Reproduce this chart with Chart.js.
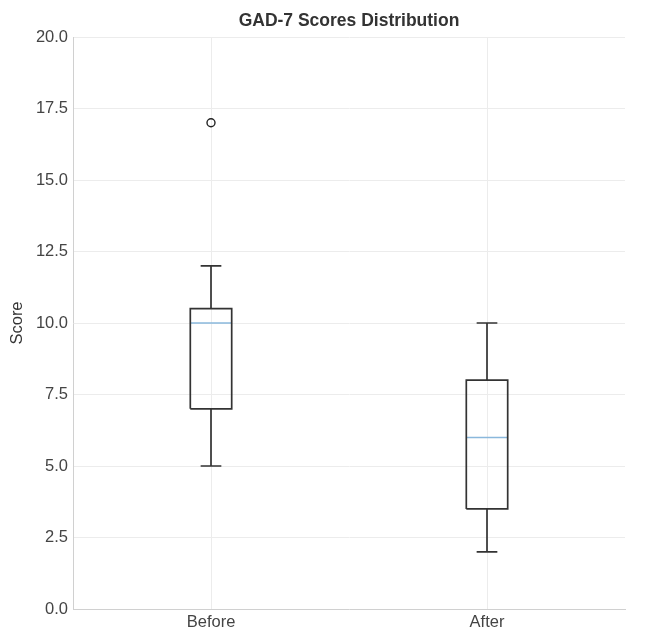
<!DOCTYPE html>
<html>
<head>
<meta charset="utf-8">
<script src="https://cdn.jsdelivr.net/npm/chart.js@4.4.1/dist/chart.umd.min.js"></script>
<style>
  html, body { margin: 0; padding: 0; background: #fff; }
  #wrap { width: 649px; height: 633px; }
</style>
</head>
<body>
<div id="wrap"><canvas id="box"></canvas></div>
<script>
// box plot stats
const categories = ['Before', 'After'];
const whiskerLow = [5, 2];
const q1 = [7, 3.5];
const median = [10, 6];
const q3 = [10.5, 8];
const whiskerHigh = [12, 10];
const outliers = [[17], []];
const yTicks = [0, 2.5, 5, 7.5, 10, 12.5, 15, 17.5, 20];
const chartTitle = 'GAD-7 Scores Distribution';

const boxHalf = 0.075;   // half box width, in category units
const capHalf = 0.0375;
const lineColor = '#333';
const medianColor = '#8ab8dc';
const fontFamily = 'Liberation Sans';

const datasets = [];
categories.forEach((cat, i) => {
  const x = i + 1;
  // box outline
  datasets.push({
    data: [
      {x: x - boxHalf, y: q1[i]}, {x: x + boxHalf, y: q1[i]},
      {x: x + boxHalf, y: q3[i]}, {x: x - boxHalf, y: q3[i]},
      {x: x - boxHalf, y: q1[i]}
    ],
    showLine: true, borderColor: lineColor, borderWidth: 1.7,
    pointRadius: 0, fill: false
  });
  // whiskers + caps
  datasets.push({
    data: [
      {x: x, y: q3[i]}, {x: x, y: whiskerHigh[i]}, {x: null, y: null},
      {x: x - capHalf, y: whiskerHigh[i]}, {x: x + capHalf, y: whiskerHigh[i]}, {x: null, y: null},
      {x: x, y: q1[i]}, {x: x, y: whiskerLow[i]}, {x: null, y: null},
      {x: x - capHalf, y: whiskerLow[i]}, {x: x + capHalf, y: whiskerLow[i]}
    ],
    showLine: true, spanGaps: false, borderColor: lineColor, borderWidth: 1.7,
    pointRadius: 0, fill: false
  });
  // median
  datasets.push({
    data: [{x: x - boxHalf, y: median[i]}, {x: x + boxHalf, y: median[i]}],
    showLine: true, borderColor: medianColor, borderWidth: 1.5,
    pointRadius: 0, fill: false
  });
  // fliers
  datasets.push({
    data: outliers[i].map(v => ({x: x, y: v})),
    showLine: false, pointRadius: 4, pointBorderWidth: 1.4,
    pointBorderColor: '#222', pointBackgroundColor: 'rgba(0,0,0,0)'
  });
});

// title centred over the plot area, like matplotlib does
const plotTitle = {
  id: 'plotTitle',
  afterDraw(chart) {
    const c = chart.ctx;
    const area = chart.chartArea;
    c.save();
    c.font = 'bold 17.5px ' + fontFamily;
    c.fillStyle = '#333';
    c.textAlign = 'center';
    c.textBaseline = 'middle';
    c.fillText(chartTitle, (area.left + area.right) / 2, 21);
    c.restore();
  }
};

const ctx = document.getElementById('box');
new Chart(ctx, {
  type: 'scatter',
  data: { datasets: datasets },
  plugins: [plotTitle],
  options: {
    responsive: true,
    maintainAspectRatio: false,
    animation: false,
    layout: { padding: { left: 0, right: 24, top: 37, bottom: 0 } },
    plugins: {
      legend: { display: false },
      tooltip: { enabled: false },
      title: { display: false }
    },
    scales: {
      x: {
        type: 'linear',
        min: 0.5,
        max: 2.5,
        afterBuildTicks: (scale) => {
          scale.ticks = categories.map((c, i) => ({ value: i + 1 }));
        },
        afterFit: (scale) => { scale.height = 24; },
        ticks: {
          color: '#444',
          padding: 4,
          font: { family: fontFamily, size: 16.5 },
          callback: (v) => categories[v - 1]
        },
        grid: { color: '#ececec', lineWidth: 1, drawTicks: false },
        border: { color: '#d0d0d0', width: 1 }
      },
      y: {
        min: 0,
        max: 20,
        afterBuildTicks: (scale) => {
          scale.ticks = yTicks.map(v => ({ value: v }));
        },
        afterFit: (scale) => { scale.width = 73; },
        title: {
          display: true,
          text: 'Score',
          color: '#333',
          font: { family: fontFamily, size: 16.5 },
          padding: { top: 8, bottom: 0 }
        },
        ticks: {
          color: '#444',
          padding: 5,
          font: { family: fontFamily, size: 16.5 },
          callback: (v) => v.toFixed(1)
        },
        grid: { color: '#ececec', lineWidth: 1, drawTicks: false },
        border: { color: '#d0d0d0', width: 1 }
      }
    }
  }
});
</script>
</body>
</html>
